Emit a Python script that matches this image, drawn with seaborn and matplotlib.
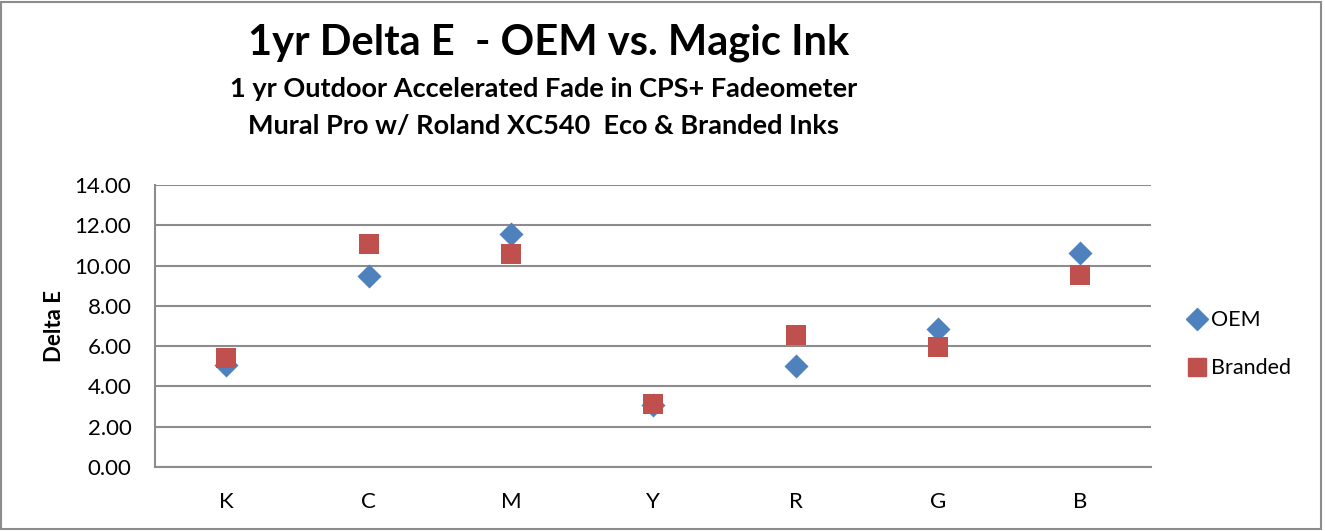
import pandas as pd
import matplotlib.pyplot as plt
import seaborn as sns
from matplotlib.patches import Rectangle
from matplotlib.lines import Line2D

sns.set_theme(style="white")
plt.rcParams['font.family'] = ['Lato', 'DejaVu Sans']
plt.rcParams['text.color'] = 'black'
plt.rcParams['xtick.color'] = 'black'
plt.rcParams['ytick.color'] = 'black'
plt.rcParams['axes.labelcolor'] = 'black'

# data
colors_ink = ['K', 'C', 'M', 'Y', 'R', 'G', 'B']
oem = [5.05, 9.50, 11.58, 3.10, 5.01, 6.85, 10.61]
branded = [5.41, 11.07, 10.56, 3.14, 6.55, 5.96, 9.55]

df = pd.DataFrame({'Color': colors_ink * 2,
                   'Delta E': oem + branded,
                   'Series': ['OEM'] * 7 + ['Branded'] * 7})

fig = plt.figure(figsize=(13.25, 5.31), dpi=100)
ax = fig.add_axes([0.117, 0.1205, 0.752, 0.531])

blue = '#4F81BD'
red = '#C0504D'

sns.scatterplot(data=df[df['Series'] == 'OEM'], x='Color', y='Delta E',
                marker='D', color=blue, s=150, linewidth=0, ax=ax, zorder=3)
sns.scatterplot(data=df[df['Series'] == 'Branded'], x='Color', y='Delta E',
                marker='s', color=red, s=190, linewidth=0, ax=ax, zorder=4)

ax.set_xlim(-0.5, 6.5)
ax.set_ylim(0, 14)
ax.set_yticks(range(0, 15, 2))
ax.set_yticklabels([f'{v:.2f}' for v in range(0, 15, 2)], fontsize=16)
ax.tick_params(axis='x', labelsize=16, pad=18)
ax.tick_params(axis='y', pad=17)
ax.tick_params(length=0)
ax.yaxis.grid(True, color='#8c8c8c', linewidth=1.5)
ax.set_axisbelow(True)
for side in ['top', 'right']:
    ax.spines[side].set_visible(False)
for side in ['left', 'bottom']:
    ax.spines[side].set_color('#8c8c8c')
    ax.spines[side].set_linewidth(1.5)
ax.set_xlabel('')
ax.set_ylabel('Delta E', fontsize=16, fontweight='bold', labelpad=7)

handles = [Line2D([], [], marker='D', color=blue, linestyle='', markersize=11),
           Line2D([], [], marker='s', color=red, linestyle='', markersize=13)]
fig.legend(handles, ['OEM', 'Branded'], loc='center left',
           bbox_to_anchor=(0.879, 0.352), frameon=False, fontsize=15.5,
           handletextpad=0.05, labelspacing=1.3, handlelength=1.2)

fig.text(0.414, 0.92, '1yr Delta E  - OEM vs. Magic Ink', ha='center',
         va='center', fontsize=30, fontweight='bold')
fig.text(0.41, 0.833, '1 yr Outdoor Accelerated Fade in CPS+ Fadeometer',
         ha='center', va='center', fontsize=19.5, fontweight='bold')
fig.text(0.41, 0.762, 'Mural Pro w/ Roland XC540  Eco & Branded Inks',
         ha='center', va='center', fontsize=19.5, fontweight='bold')

fig.patches.append(Rectangle((0.001, 0.003), 0.996, 0.994, transform=fig.transFigure,
                             fill=False, edgecolor='#8c8c8c', linewidth=1.5))

fig.savefig('out.png', dpi=100)
